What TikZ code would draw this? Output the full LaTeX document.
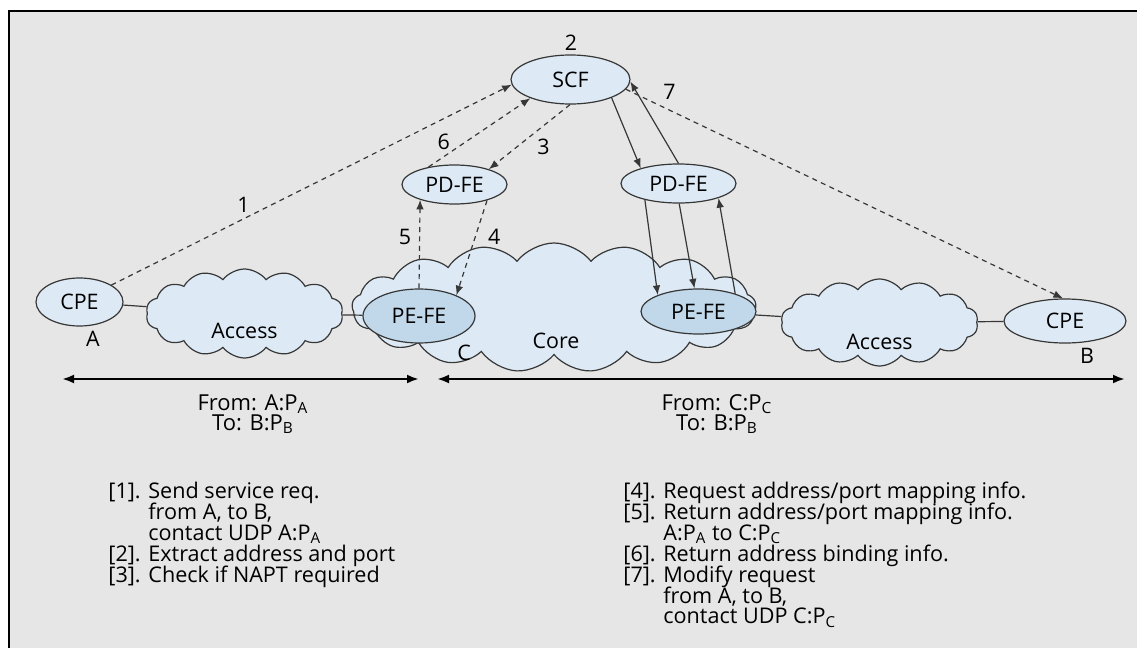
\documentclass[tikz,border=0pt]{standalone}
\usepackage{fontspec}
\setmainfont{Open Sans}
\usetikzlibrary{shapes.geometric,shapes.symbols,arrows.meta}

\definecolor{panelgray}{RGB}{230,230,230}
\definecolor{fepale}{RGB}{221,234,245}
\definecolor{fedark}{RGB}{192,216,234}
\definecolor{linegray}{RGB}{55,55,55}

\newcommand\itm[1]{\makebox[20pt][l]{[#1].}}
\newcommand\cnt{\hspace*{20pt}}
\newcommand\listfont{\fontsize{10.8}{10.3}\selectfont\lineskiplimit=-20pt\relax}

\tikzset{
  fe/.style={ellipse,draw=linegray,fill=fepale,line width=.6pt,inner sep=0pt},
  pe/.style={fe,fill=fedark},
  net/.style={cloud,cloud puffs=#1,cloud puff arc=105,cloud ignores aspect,draw=linegray,fill=fepale,line width=.6pt,inner sep=0pt},
  net/.default=14,
  dsh/.style={dash pattern=on 2.5pt off 2.2pt}
}

\begin{document}
\begin{tikzpicture}[x=.5pt,y=-.5pt,font=\fontsize{10.7}{10}\selectfont,
    >={Latex[length=4.8pt,width=3.8pt]}]

        \useasboundingbox (0,0) rectangle (1137,648);
        \fill[panelgray] (9,11) rectangle (1137,648);
        \draw[line width=1pt] (9,648) -- (9,11) -- (1137,11);

        \node[net=17,minimum width=202pt,minimum height=64.5pt,
              label={[xshift=1pt,yshift=-16.75pt]center:Core}] (3) at (554,307.5) {};
        \node[net,minimum width=98.5pt,minimum height=44.5pt,
              label={[yshift=-8.75pt]center:Access}] (2) at (244.5,313.5) {};
        \node[net,minimum width=98.5pt,minimum height=43.5pt,
              label={[yshift=-9.5pt]center:Access}] (9) at (879.5,322.5) {};

        \node[fe,minimum width=43.5pt,minimum height=24pt] (1) at (79.5,302) {CPE};
        \node[pe,minimum width=56pt,minimum height=27pt] (4) at (419,316) {PE-FE};
        \node[fe,minimum width=52.5pt,minimum height=19.5pt] (5) at (454.5,184.5) {PD-FE};
        \node[fe,minimum width=59.5pt,minimum height=24.5pt] (6) at (570.5,79.5) {SCF};
        \node[fe,minimum width=57.5pt,minimum height=19.5pt] (7) at (678.5,183.5) {PD-FE};
        \node[pe,minimum width=57.5pt,minimum height=22.5pt] (8) at (698.5,311.5) {PE-FE};
        \node[fe,minimum width=61pt,minimum height=22pt] (10) at (1065,321) {CPE};

        \node (11) at (93,339) {A};
        \node (12) at (1087,356) {B};
        \node (13) at (464,353) {C};
        \node (14) at (571,43) {2};

        \begin{scope}[every node/.style={inner sep=1pt}]

          \begin{scope}[every edge/.style={draw=linegray,line width=.6pt,dsh}]
            \path (1.28)  edge[->] node[pos=.33,above=2pt] {1} (6.185);
            \path (6.269) edge[->] node[pos=.46,below right=1pt] {3} (5.24);
            \path (5.334) edge[->] node[pos=.38,right=5pt] {4} (4.29);
            \path (4.north) edge[->] node[pos=.58,left=3pt] {5} (5.204);
            \path (5.146) edge[->] node[pos=.15,above=2pt] {6} (6.205);
            \path (6.350) edge[->] node[pos=.1,above=4pt] {7} (10.95);
          \end{scope}

          \begin{scope}[every edge/.style={draw=linegray,line width=.6pt}]
            \path (6.336) edge[->] (7.158);
            \path (7.north) edge[->] (6.358);
            \path (7.206) edge[->] (8.158);
            \path (7.272) edge[->] (8.100);
            \path (8.26) edge[->] (7.340);
            \path (1) edge (2);
            \path (2) edge (4);
            \path (8) edge (9);
            \path (9) edge (10);
          \end{scope}
        \end{scope}

        \coordinate (l1) at (62,379);
        \coordinate (l2) at (419,379);
        \coordinate (r1) at (437,379);
        \coordinate (r2) at (1125,379);
        \draw[line width=1.3pt,{Latex[length=6pt,width=4.5pt]}-{Latex[length=6pt,width=4.5pt]}] (l1) -- (l2);
        \draw[line width=1.3pt,{Latex[length=6pt,width=4.5pt]}-{Latex[length=6pt,width=4.5pt]}] (r1) -- (r2);

        \node[align=center,font=\fontsize{11}{10}\selectfont] (15) at (253,414)
          {From: A:P\textsubscript{A}\\To: B:P\textsubscript{B}};
        \node[align=center,font=\fontsize{11}{10}\selectfont] (16) at (717,414)
          {From: C:P\textsubscript{C}\\To: B:P\textsubscript{B}};

        \node[anchor=north west,align=left,inner sep=0pt,font=\listfont] (17) at (108,482)
          {\itm{1}Send service req.\\
           \cnt from A, to B,\\
           \cnt contact UDP A:P\textsubscript{A}\\[.6pt]
           \itm{2}Extract address and port\\
           \itm{3}Check if NAPT required};
        \node[anchor=north west,align=left,inner sep=0pt,font=\listfont] (18) at (623,482)
          {\itm{4}Request address/port mapping info.\\
           \itm{5}Return address/port mapping info.\\
           \cnt A:P\textsubscript{A} to C:P\textsubscript{C}\\[.6pt]
           \itm{6}Return address binding info.\\
           \itm{7}Modify request\\
           \cnt from A, to B,\\
           \cnt contact UDP C:P\textsubscript{C}};

      \end{tikzpicture}
\end{document}
